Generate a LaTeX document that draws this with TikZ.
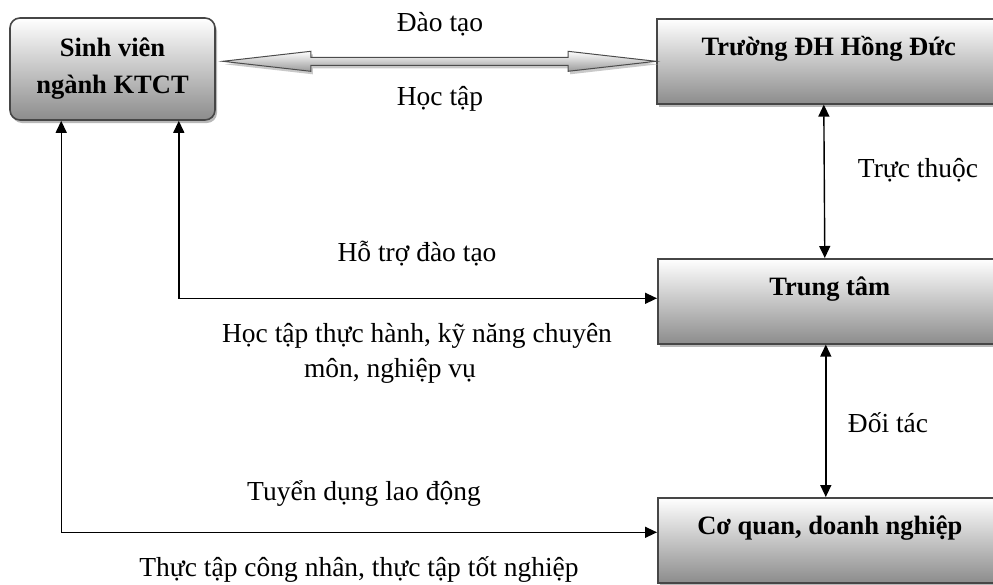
\documentclass[tikz,border=0pt]{standalone}
\usepackage{fontspec}
\setmainfont{Liberation Serif}
\usetikzlibrary{calc,shadows,arrows.meta}

\begin{document}
\begin{tikzpicture}[x=1pt,y=-1pt,
     txt/.style={font=\fontsize{27.5}{32}\selectfont,inner sep=0pt,anchor=base},
     box/.style={draw=gray!55!black,line width=1.6pt,top color=white,bottom color=gray!90,
        drop shadow={shadow xshift=2pt,shadow yshift=-3pt,fill=gray!70,opacity=0.8},
        font=\bfseries\fontsize{26.5}{34}\selectfont},
     rbox/.style={box,anchor=north west,minimum width=344pt,inner ysep=0pt,text height=37pt,text depth=48pt},
     link/.style={line width=1.4pt,{Triangle[length=12pt,width=11pt]}-{Triangle[length=12pt,width=11pt]}}]
     \useasboundingbox (0,0) rectangle (993,584);
     \clip (0,0) rectangle (993,584);

     \coordinate (SVc) at (112.5,69);
     \coordinate (TRnw) at (656,18);
     \coordinate (TTnw) at (657,258);
     \coordinate (CQnw) at (657,497);

     \node[box,rounded corners=10pt,minimum width=205pt,minimum height=102pt,align=center] (SV) at (SVc) {Sinh viên\\[3pt]ngành KTCT};
     \node[rbox] (TR) at (TRnw) {Trường ĐH Hồng Đức};
     \node[rbox] (TT) at (TTnw) {Trung tâm};
     \node[rbox] (CQ) at (CQnw) {Cơ quan, doanh nghiệp};

     \coordinate (L) at ($(SV.east |- TR.west)+(7,0)$);
     \coordinate (R) at (TR.west);
     \draw[draw=gray!60!black,line width=1pt,top color=white,bottom color=gray!80,
        drop shadow={shadow xshift=2pt,shadow yshift=-3pt,fill=gray!60,opacity=0.7}]
        (L) -- ($(L)+(88,-10)$) -- ($(L)+(88,-4)$) -- ($(R)+(-88,-4)$) -- ($(R)+(-88,-10)$) -- (R)
        -- ($(R)+(-88,10)$) -- ($(R)+(-88,4)$) -- ($(L)+(88,4)$) -- ($(L)+(88,10)$) -- cycle;
     \node[txt] (daotao) at (440,31) {Đào tạo};
     \node[txt] (hoctap) at (440,105) {Học tập};

     \draw[link] ([xshift=-5pt]TR.south) -- ([xshift=-5pt]TT.north);
     \node[txt] (tructhuoc) at (918,177) {Trực thuộc};
     \draw[link] ([xshift=-4pt]TT.south) -- ([xshift=-4pt]CQ.north);
     \node[txt] (doitac) at (888,432) {Đối tác};

     \draw[link] ($(SV.south east)+(-37,0)$) |- ($(TT.west)+(0,-3)$);
     \node[txt] (hotro) at (417,261) {Hỗ trợ đào tạo};
     \node[txt] (thuchanh) at (417,342) {Học tập thực hành, kỹ năng chuyên};
     \node[txt] (nghiepvu) at (390,377) {môn, nghiệp vụ};

     \draw[link] ($(SV.south west)+(52,0)$) |- ($(CQ.west)+(0,-8)$);
     \node[txt] (tuyendung) at (364,500) {Tuyển dụng lao động};
     \node[txt] (thuctap) at (359,576) {Thực tập công nhân, thực tập tốt nghiệp};
  \end{tikzpicture}
\end{document}
